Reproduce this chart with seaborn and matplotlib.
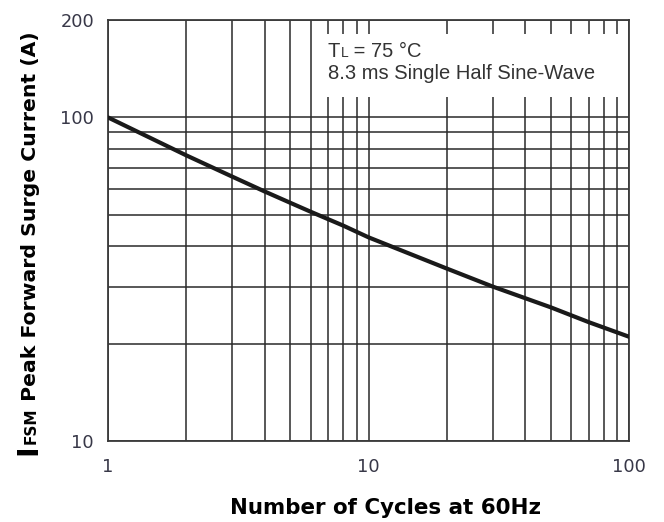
import matplotlib
matplotlib.use("Agg")
import matplotlib.pyplot as plt
import matplotlib.patches as mpatches
import seaborn as sns
import pandas as pd

# curve
cycles = [1, 2, 3, 4, 5, 6, 8, 10, 20, 30, 50, 70, 100]
surge_current = [100, 76.3, 65.6, 59.0, 54.5, 51.1, 46.3, 42.6, 34.1, 30.0, 25.9, 23.3, 21.0]

x_ticks = [1, 10, 100]
y_ticks = [10, 100, 200]
x_minor = [2, 3, 4, 5, 6, 7, 8, 9, 20, 30, 40, 50, 60, 70, 80, 90]
y_minor = [20, 30, 40, 50, 60, 70, 80, 90]

W, H = 664, 522

sns.set_style("white")
plt.rcParams['font.family'] = ['Liberation Sans', 'DejaVu Sans']

df = pd.DataFrame({'cycles': cycles, 'current': surge_current})

fig = plt.figure(figsize=(W / 100, H / 100), dpi=100)
ax = fig.add_axes([108 / W, 1 - 441 / H, 521 / W, 421 / H])

sns.lineplot(data=df, x='cycles', y='current', ax=ax, color='#1a1a1a',
             linewidth=3.0, zorder=4)

ax.set_xscale('log')
ax.set_yscale('log')
ax.set_xlim(1, 100)
ax.set_ylim(10, 200)

ax.set_xticks(x_ticks)
ax.set_xticklabels([str(v) for v in x_ticks])
ax.set_xticks(x_minor, minor=True)
ax.set_xticklabels([], minor=True)
ax.set_yticks(y_ticks)
ax.set_yticklabels([str(v) for v in y_ticks])
ax.set_yticks(y_minor, minor=True)
ax.set_yticklabels([], minor=True)

ax.tick_params(which='both', length=0)
ax.tick_params(axis='x', pad=12, labelsize=12.8, labelcolor='#383848')
ax.tick_params(axis='y', pad=10, labelsize=12.8, labelcolor='#383848')
for lab in ax.get_xticklabels() + ax.get_yticklabels():
    lab.set_family('DejaVu Sans')

ax.grid(which='both', color='#2a2a2a', linewidth=1.1)
for sp in ax.spines.values():
    sp.set_color('#3a3a3a')
    sp.set_linewidth(1.3)

ax.set_xlabel('')
ax.set_ylabel('')

# white box behind the note (covers the vertical grid lines)
box = mpatches.Rectangle((0.3916, 0.817), 0.6045, 0.150, transform=ax.transAxes,
                         facecolor='white', edgecolor='none', zorder=2.5)
ax.add_patch(box)

fig.canvas.draw()
renderer = fig.canvas.get_renderer()


def chain(pieces, x, y, rotation=0, color='#222222', family='Liberation Sans'):
    # place text pieces one after another, starting at pixel (x, y from top)
    for s, size, weight in pieces:
        if rotation == 0:
            t = fig.text(x / W, 1 - y / H, s, fontsize=size, fontweight=weight,
                         color=color, ha='left', va='baseline', zorder=5,
                         family=family)
            bb = t.get_window_extent(renderer)
            x += bb.width
        else:
            t = fig.text(x / W, 1 - y / H, s, fontsize=size, fontweight=weight,
                         color=color, ha='left', va='baseline', rotation=90,
                         rotation_mode='anchor', zorder=5, family=family)
            bb = t.get_window_extent(renderer)
            y -= bb.height


chain([('T', 14.5, 'normal'), ('L', 10, 'normal'), (' = 75 °C', 14.5, 'normal')],
      328, 57, color='#333333')
chain([('8.3 ms Single Half Sine-Wave', 14.5, 'normal')], 328, 79, color='#333333')

chain([('I', 20.5, 'bold'), ('FSM', 11, 'bold'),
       (' Peak Forward Surge Current (A)', 14.7, 'bold')], 36, 455, rotation=90,
      color='black', family='DejaVu Sans')

fig.text(385 / W, 1 - 508 / H, 'Number of Cycles at 60Hz', fontsize=15.4,
         fontweight='bold', ha='center', va='center', color='black',
         family='DejaVu Sans')

fig.savefig('out.png', dpi=100)
